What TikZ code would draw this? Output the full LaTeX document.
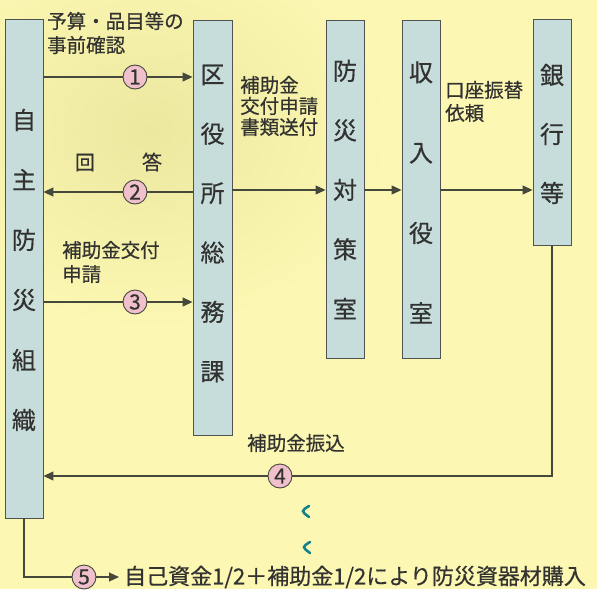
\documentclass[tikz,border=0pt]{standalone}
\usepackage{fontspec}
\setmainfont{Noto Sans CJK JP}[FakeBold=0.5]
\usetikzlibrary{arrows.meta}
\definecolor{bg}{RGB}{252,247,178}
\definecolor{bgdark}{RGB}{236,232,160}
\definecolor{boxfill}{RGB}{198,221,220}
\definecolor{boxline}{RGB}{80,84,80}
\definecolor{ink}{RGB}{50,50,48}
\definecolor{wirec}{RGB}{70,72,60}
\definecolor{numfill}{RGB}{240,192,204}
\definecolor{tealmark}{RGB}{20,130,140}
\begin{document}
\begin{tikzpicture}[x=1pt,y=-1pt,
  box/.style={draw=boxline, fill=boxfill, line width=0.9pt, minimum width=38pt, inner sep=0pt},
  boxtext/.style={text=ink, align=center, inner sep=0pt, font=\fontsize{24}{#1}\selectfont},
  lbl/.style={text=ink, align=left, inner sep=0pt, anchor=west, font=\fontsize{19.5}{#1}\selectfont},
  num/.style={circle, draw=wirec, fill=numfill, line width=0.9pt, minimum size=24pt, inner sep=0pt, text=ink, font=\fontsize{21}{21}\selectfont},
  wire/.style={draw=wirec, line width=1.1pt},
  arr/.style={wire, -{Triangle[length=10pt,width=9pt]}},
  tealstroke/.style={draw=tealmark, line width=2.6pt, line cap=round},
]
\useasboundingbox (0,0) rectangle (597,589);
\fill[bg] (0,0) rectangle (597,589);
\shade[inner color=bgdark, outer color=bg] (150,130) ellipse (240 and 200);

% boxes
\node[box, minimum height=499pt] (jishu) at (24,268.5) {};
\node[boxtext=60] (jishuT) at (24,270) {自\\主\\防\\災\\組\\織};
\node[box, minimum width=39pt, minimum height=415pt] (kuyaku) at (212.5,227.5) {};
\node[boxtext=59.4] (kuyakuT) at (212.5,223.5) {区\\役\\所\\総\\務\\課};
\node[box, minimum height=338pt] (bousai) at (345,189) {};
\node[boxtext=59.5] (bousaiT) at (345,189.5) {防\\災\\対\\策\\室};
\node[box, minimum height=338pt] (shunyu) at (421,189) {};
\node[boxtext=80.3] (shunyuT) at (421,192.5) {収\\入\\役\\室};
\node[box, minimum height=226pt] (ginko) at (552,132) {};
\node[boxtext=59] (ginkoT) at (552,134) {銀\\行\\等};

% numbered circles
\node[num] (n1) at (135,77) {1};
\node[num] (n2) at (135,192) {2};
\node[num] (n3) at (135,302) {3};
\node[num] (n4) at (280,476) {4};
\node[num] (n5) at (84,577) {5};

% labels
\node[lbl=24] (l1) at (47,33) {予算・品目等の\\事前確認};
\node[text=ink, inner sep=0pt, font=\fontsize{20}{20}\selectfont] (l2) at (118.5,162) {回\hspace{47pt}答};
\node[lbl=24] (l3) at (62,262) {補助金交付\\申請};
\node[lbl=21] (l4) at (240,106) {補助金\\交付申請\\書類送付};
\node[lbl=23] (l5) at (445,101.5) {口座振替\\依頼};
\node[lbl=20] (l6) at (247,443) {補助金振込};
\node[text=ink, inner sep=0pt, anchor=west, font=\fontsize{22}{22}\selectfont] (buy) at (124,577) {自己資金1/2＋補助金1/2により防災資器材購入};

% connectors
\draw[wire] (jishu.east |- n1) -- (n1.west);
\draw[arr] (n1.east) -- (kuyaku.west |- n1);
\draw[wire] (kuyaku.west |- n2) -- (n2.east);
\draw[arr] (n2.west) -- (jishu.east |- n2);
\draw[wire] (jishu.east |- n3) -- (n3.west);
\draw[arr] (n3.east) -- (kuyaku.west |- n3);
\coordinate (row) at (0,190);
\draw[arr] (kuyaku.east |- row) -- (bousai.west |- row);
\draw[arr] (bousai.east |- row) -- (shunyu.west |- row);
\draw[arr] (shunyu.east |- row) -- (ginko.west |- row);
\draw[wire] (ginko.south) |- (n4.east);
\draw[arr] (n4.west) -- (jishu.east |- n4);
\draw[wire] (jishu.south) |- (n5.west);
\coordinate (tip) at (119,577);
\draw[arr] (n5.east) -- (tip);

% small teal marks
\draw[tealstroke] (309,506) .. controls (301,511) .. (309,517);
\draw[tealstroke] (310,542) .. controls (302,547) .. (310,553);
\end{tikzpicture}
\end{document}
